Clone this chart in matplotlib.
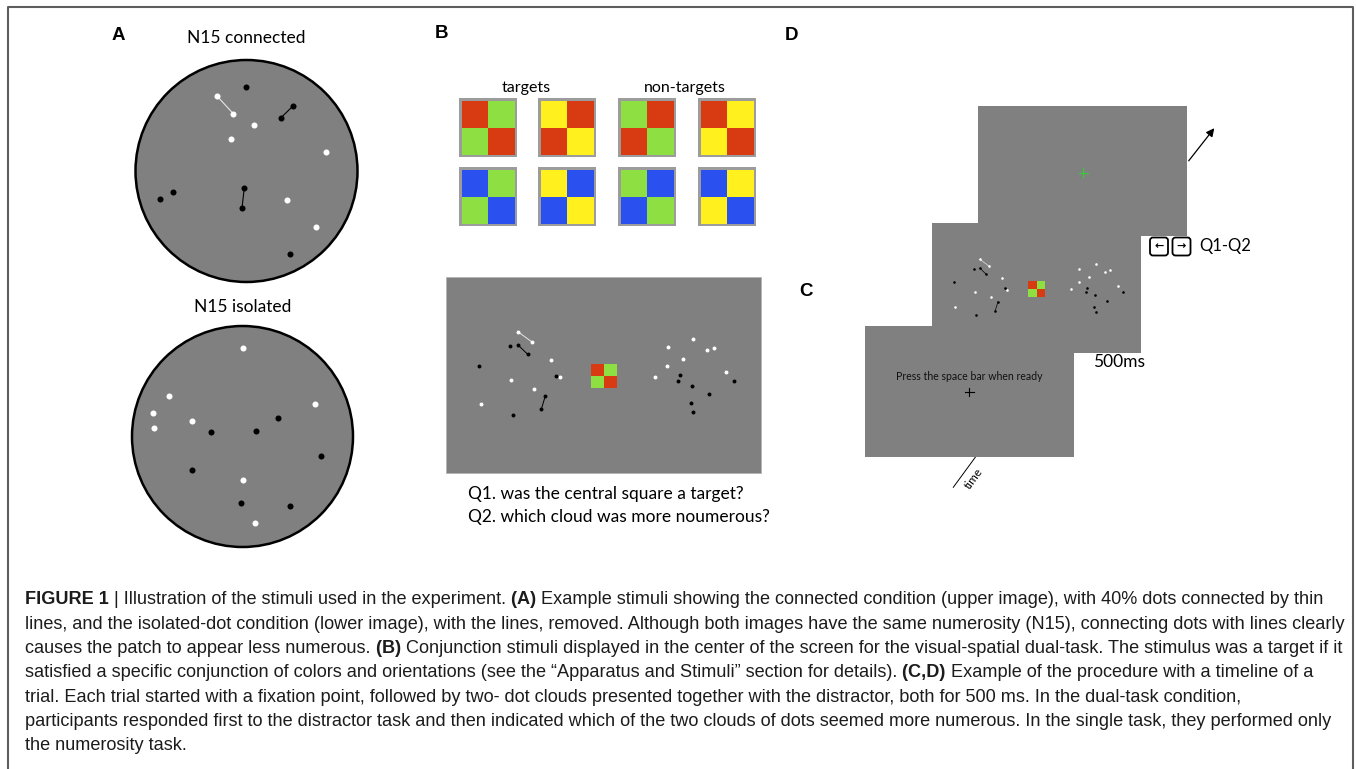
import matplotlib
matplotlib.use("Agg")
import matplotlib.pyplot as plt
from matplotlib.patches import Circle, Rectangle, FancyBboxPatch
from matplotlib.font_manager import FontProperties, fontManager

W, H = 1356, 769

# --- panel A: dot positions in pixels ---
# N15 connected
a1_white_x = [216.7, 233.3, 254.3, 231.0, 325.7, 286.7, 316.0]
a1_white_y = [95.7, 113.7, 125.0, 138.7, 152.3, 200.3, 226.7]
a1_black_x = [245.7, 293.3, 281.0, 173.0, 160.3, 244.3, 242.0, 290.0]
a1_black_y = [87.0, 105.7, 117.7, 192.3, 199.0, 187.7, 208.0, 254.3]
a1_white_links = [(0, 1)]
a1_black_links = [(1, 2), (5, 6)]

# N15 isolated
a2_white_x = [243.3, 168.7, 153.3, 154.0, 191.7, 315.0, 242.7, 255.0]
a2_white_y = [348.0, 396.0, 413.0, 427.7, 421.0, 404.3, 480.0, 523.0]
a2_black_x = [278.3, 256.0, 211.3, 321.0, 192.0, 241.0, 289.7]
a2_black_y = [418.3, 431.0, 432.3, 456.3, 469.7, 503.3, 506.3]

# --- panel B: stimulus screen dots (left cloud then right cloud) ---
b_white_x = [518.3, 532.0, 551.3, 511.3, 534.3, 559.7, 481.3,
             693.0, 667.7, 707.0, 714.0, 683.3, 667.0, 655.0, 726.3]
b_white_y = [332.0, 342.0, 359.7, 380.3, 388.7, 377.3, 404.3,
             338.7, 347.0, 350.3, 348.0, 359.0, 366.3, 376.7, 372.3]
b_black_x = [510.0, 518.0, 527.7, 479.0, 555.7, 545.3, 541.3, 512.7,
             679.7, 678.0, 691.7, 733.7, 709.3, 690.7, 692.7]
b_black_y = [346.0, 345.0, 354.3, 366.3, 375.7, 396.0, 409.3, 415.0,
             375.0, 381.3, 385.7, 381.3, 394.3, 403.3, 411.7]
b_white_links = [(0, 1)]
b_black_links = [(1, 2), (5, 6)]

# conjunction squares (TL, TR, BL, BR)
square_patterns = [
    ["red", "green", "green", "red"], ["yellow", "red", "red", "yellow"],
    ["green", "red", "red", "green"], ["red", "yellow", "yellow", "red"],
    ["blue", "green", "green", "blue"], ["yellow", "blue", "blue", "yellow"],
    ["green", "blue", "blue", "green"], ["blue", "yellow", "yellow", "blue"],
]
central_pattern = ["red", "green", "green", "red"]
group_labels = ["targets", "non-targets"]

questions = ["Q1. was the central square a target?",
             "Q2. which cloud was more noumerous?"]

caption_lines = [
    [("FIGURE 1 ", True), ("| Illustration of the stimuli used in the experiment. ", False), ("(A) ", True),
     ("Example stimuli showing the connected condition (upper image), with 40% dots connected by thin", False)],
    [("lines, and the isolated-dot condition (lower image), with the lines, removed. Although both images have the same numerosity (N15), connecting dots with lines clearly", False)],
    [("causes the patch to appear less numerous. ", False), ("(B) ", True),
     ("Conjunction stimuli displayed in the center of the screen for the visual-spatial dual-task. The stimulus was a target if it", False)],
    [("satisfied a specific conjunction of colors and orientations (see the \u201cApparatus and Stimuli\u201d section for details). ", False),
     ("(C,D) ", True), ("Example of the procedure with a timeline of a", False)],
    [("trial. Each trial started with a fixation point, followed by two- dot clouds presented together with the distractor, both for 500 ms. In the dual-task condition,", False)],
    [("participants responded first to the distractor task and then indicated which of the two clouds of dots seemed more numerous. In the single task, they performed only", False)],
    [("the numerosity task.", False)],
]

COLORS = {"red": "#D83A12", "green": "#8EDF42", "yellow": "#FFF01E", "blue": "#2B50F0"}
GRAY = "#808080"
label_font = "Liberation Sans"
text_font = ["Lato", "DejaVu Sans"]
names = {f.name for f in fontManager.ttflist}
cap_font = "Liberation Sans Narrow" if "Liberation Sans Narrow" in names else "Liberation Sans"

fig = plt.figure(figsize=(W / 100, H / 100), dpi=100)
ax = fig.add_axes([0, 0, 1, 1])
ax.set_xlim(0, W)
ax.set_ylim(H, 0)
ax.axis("off")

# outer frame (open at the bottom)
ax.plot([8, 8, 1352.5, 1352.5], [800, 7, 7, 800], color="#5e5e5e", lw=1.5)

# panel labels
for lab, x, y in [("A", 118, 35), ("B", 441.5, 34), ("D", 792, 35), ("C", 805.5, 291)]:
    ax.text(x, y, lab, fontsize=13.5, fontweight="bold", family=label_font, ha="center", va="center")


def draw_links(xs, ys, links, color, lw):
    for i, j in links:
        ax.plot([xs[i], xs[j]], [ys[i], ys[j]], color=color, lw=lw, solid_capstyle="round", zorder=3)


# --- panel A ---
for cx, cy, r, title, ty in [(246.5, 171, 111, "N15 connected", 38), (242.5, 436.5, 110.5, "N15 isolated", 306.5)]:
    ax.add_patch(Circle((cx, cy), r, facecolor=GRAY, edgecolor="black", lw=1.8, zorder=1))
    ax.text(cx, ty, title, fontsize=12.5, family=text_font, ha="center", va="center")

draw_links(a1_white_x, a1_white_y, a1_white_links, "#e6e6e6", 0.8)
draw_links(a1_black_x, a1_black_y, a1_black_links, "black", 0.8)
ax.scatter(a1_white_x, a1_white_y, s=19, c="white", linewidths=0, zorder=4)
ax.scatter(a1_black_x, a1_black_y, s=19, c="black", linewidths=0, zorder=4)
ax.scatter(a2_white_x, a2_white_y, s=19, c="white", linewidths=0, zorder=4)
ax.scatter(a2_black_x, a2_black_y, s=19, c="black", linewidths=0, zorder=4)


# --- panel B squares ---
def draw_checker(x, y, w, h, pattern, border=0.0, zorder=3):
    if border > 0:
        ax.add_patch(Rectangle((x, y), w, h, facecolor="#9c9c9c", edgecolor="none", zorder=zorder))
    x0, y0 = x + border, y + border
    qw, qh = (w - 2 * border) / 2, (h - 2 * border) / 2
    for k, col in enumerate(pattern):
        ax.add_patch(Rectangle((x0 + (k % 2) * qw, y0 + (k // 2) * qh), qw, qh,
                               facecolor=COLORS[col], edgecolor="none", zorder=zorder + 0.1))


col_x = [459, 538, 618, 698]
row_y = [98, 167]
for idx, pat in enumerate(square_patterns):
    draw_checker(col_x[idx % 4], row_y[idx // 4], 58, 59, pat, border=2.5)
ax.text(526.5, 88, group_labels[0], fontsize=11.5, family=text_font, ha="center", va="center")
ax.text(685, 88, group_labels[1], fontsize=11.5, family=text_font, ha="center", va="center")

# stimulus screen in B
BX, BY, BW, BH = 446, 277, 315, 196


def draw_stim(x0, y0, sx, sy, s, lw, zorder=5):
    fx = lambda v: [x0 + (t - BX) * sx for t in v]
    fy = lambda v: [y0 + (t - BY) * sy for t in v]
    wx, wy, kx, ky = fx(b_white_x), fy(b_white_y), fx(b_black_x), fy(b_black_y)
    for (i, j) in b_white_links:
        ax.plot([wx[i], wx[j]], [wy[i], wy[j]], color="#e6e6e6", lw=lw, zorder=zorder)
    for (i, j) in b_black_links:
        ax.plot([kx[i], kx[j]], [ky[i], ky[j]], color="black", lw=lw, zorder=zorder)
    ax.scatter(wx, wy, s=s, c="white", linewidths=0, zorder=zorder + 1)
    ax.scatter(kx, ky, s=s, c="black", linewidths=0, zorder=zorder + 1)
    draw_checker(x0 + (591 - BX) * sx, y0 + (364 - BY) * sy, 26 * sx, 24 * sy, central_pattern, zorder=zorder)


ax.add_patch(Rectangle((BX, BY), BW, BH, facecolor=GRAY, edgecolor="#b4b4b4", lw=0.6, zorder=2))
draw_stim(BX, BY, 1.0, 1.0, 8, 0.7)
ax.text(467.5, 494, questions[0], fontsize=12.5, family=text_font, ha="left", va="center")
ax.text(467.5, 517, questions[1], fontsize=12.5, family=text_font, ha="left", va="center")

# --- panels C/D: timeline ---
ax.add_patch(Rectangle((978, 106), 209, 130, facecolor=GRAY, edgecolor="none", zorder=10))
ax.plot([1078.5, 1087.5], [172.7, 172.7], color="#3fc43f", lw=0.9, zorder=11)
ax.plot([1083, 1083], [168.2, 177.2], color="#3fc43f", lw=0.9, zorder=11)
ax.annotate("", xy=(1216, 126), xytext=(1187, 163),
            arrowprops=dict(arrowstyle="-|>", color="black", lw=0.9, mutation_scale=12), zorder=11)

ax.add_patch(Rectangle((932, 223), 209, 130, facecolor=GRAY, edgecolor="none", zorder=12))
draw_stim(932, 223, 209 / BW, 130 / BH, 3.5, 0.5, zorder=13)

ax.add_patch(Rectangle((865, 326), 209, 131, facecolor=GRAY, edgecolor="none", zorder=20))
ax.text(969, 377, "Press the space bar when ready", fontsize=7.6, family=text_font,
        ha="center", va="center", zorder=21, color="#111111")
ax.plot([965, 973.5], [391.7, 391.7], color="black", lw=0.8, zorder=21)
ax.plot([969.3, 969.3], [387.5, 396], color="black", lw=0.8, zorder=21)

ax.text(1119.5, 362, "500ms", fontsize=12.5, family=text_font, ha="center", va="center")

# arrow keys
for kx, sym in [(1150, "\u2190"), (1172.5, "\u2192")]:
    ax.add_patch(FancyBboxPatch((kx, 237.5), 18, 18, boxstyle="round,pad=0,rounding_size=3",
                                facecolor="white", edgecolor="black", lw=1.3, zorder=15))
    ax.text(kx + 9, 246.5, sym, fontsize=8, fontweight="bold", family="DejaVu Sans",
            ha="center", va="center", zorder=16)
ax.text(1199, 246.5, "Q1-Q2", fontsize=12, family=text_font, ha="left", va="center")

# time axis
ax.plot([975.7, 953.3], [456.7, 487.3], color="black", lw=0.7)
ax.text(973.5, 479, "time", fontsize=8.5, family=text_font, rotation=54, ha="center", va="center")

# --- caption ---
renderer = fig.canvas.get_renderer()


def adv(s, prop):
    w1 = renderer.get_text_width_height_descent(s + "|", prop, ismath=False)[0]
    w2 = renderer.get_text_width_height_descent("|", prop, ismath=False)[0]
    return w1 - w2


def props(bold, size):
    return FontProperties(family=cap_font, weight="bold" if bold else "normal", size=size)


base = 10.0
w_line1 = sum(adv(s, props(b, base)) for s, b in caption_lines[0])
fs = base * (1333 - 25) / w_line1

cap_y = [600, 624.3, 648.6, 672.9, 697.2, 721.5, 745.8]
for segs, y in zip(caption_lines, cap_y):
    x = 25
    for s, b in segs:
        ax.text(x, y, s, fontproperties=props(b, fs), ha="left", va="center", color="#1c1c1c")
        x += adv(s, props(b, fs))

fig.savefig("out.png", dpi=100)
